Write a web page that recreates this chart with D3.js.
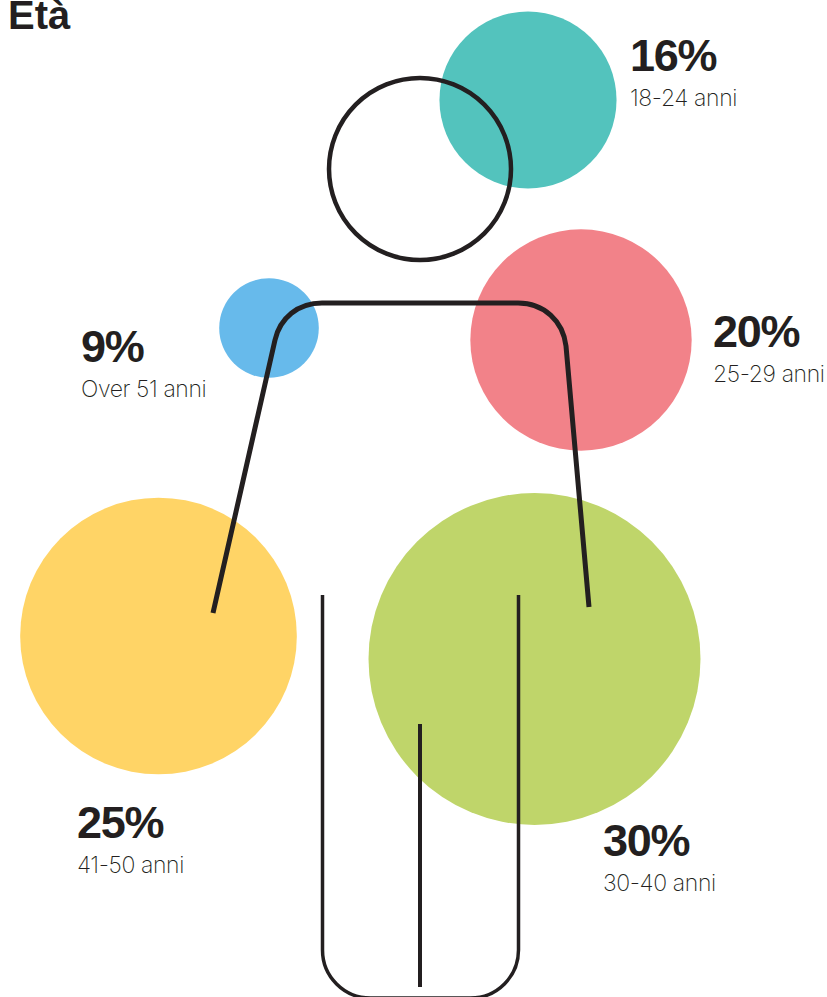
<!DOCTYPE html>
<html>

<head>
    <meta charset="utf-8">
    <script src="https://d3js.org/d3.v7.min.js"></script>
    <style>
        * {
            margin: 0;
            padding: 0;
        }

        body {
            background: #fff;
            overflow: hidden;
        }

        text {
            fill: #231f20;
        }

        .pct {
            font-family: "Liberation Sans", sans-serif;
            font-size: 45px;
            font-weight: 700;
            letter-spacing: -1.3px;
        }

        .age {
            font-family: Inter, sans-serif;
            font-size: 23px;
            font-weight: 200;
            letter-spacing: -0.4px;
        }

        .title {
            font-family: "Liberation Sans", sans-serif;
            font-size: 40px;
            font-weight: 700;
        }
    </style>
</head>

<body>
    <div id="chart"></div>
</body>
<script>
    // values
    const ages = ["18-24 anni", "25-29 anni", "Over 51 anni", "41-50 anni", "30-40 anni"];
    const shares = [16, 20, 9, 25, 30];
    const colors = ["#53c3bd", "#f28289", "#67baeb", "#ffd466", "#bfd56a"];

    // where each bubble sits around the figure, and where its label starts
    const centers = [[528, 100], [581, 340], [269, 328], [158.5, 636], [534.5, 659]];
    const labelPos = [[630, 71], [713, 347], [81, 362], [77, 838], [603, 856]];

    const width = 827, height = 997;

    let svg = d3.select("#chart").append("svg")
        .attr("width", width)
        .attr("height", height);

    let r = d3.scaleLinear().domain([0, 30]).range([0, 166]);

    let rows = ages.map((a, i) => ({
        age: a, share: shares[i], color: colors[i], c: centers[i], l: labelPos[i]
    }));

    svg.append("text")
        .attr("class", "title")
        .attr("x", 8)
        .attr("y", 29)
        .text("Età");

    svg.selectAll("circle.bubble")
        .data(rows)
        .enter()
        .append("circle")
        .attr("class", "bubble")
        .attr("cx", d => d.c[0])
        .attr("cy", d => d.c[1])
        .attr("r", d => r(d.share))
        .attr("fill", d => d.color);

    // the person outline
    let body = svg.append("g")
        .attr("fill", "none")
        .attr("stroke", "#231f20");

    body.append("circle")
        .attr("cx", 420)
        .attr("cy", 169)
        .attr("r", 91)
        .attr("stroke-width", 4.5);

    let arms = d3.path();
    arms.moveTo(213, 613);
    arms.lineTo(275, 340);
    arms.bezierCurveTo(280, 318, 298, 303, 322, 303);
    arms.lineTo(518, 303);
    arms.bezierCurveTo(544, 303, 563, 321, 566, 346);
    arms.lineTo(589, 607);
    body.append("path")
        .attr("d", arms.toString())
        .attr("stroke-width", 5);

    let legs = d3.path();
    legs.moveTo(322.5, 595);
    legs.lineTo(322.5, 950);
    legs.arc(370.5, 950, 48, Math.PI, Math.PI / 2, true);
    legs.lineTo(470.5, 998);
    legs.arc(470.5, 950, 48, Math.PI / 2, 0, true);
    legs.lineTo(518.5, 595);
    body.append("path")
        .attr("d", legs.toString())
        .attr("stroke-width", 3.5);

    body.append("line")
        .attr("x1", 420)
        .attr("y1", 724)
        .attr("x2", 420)
        .attr("y2", 987)
        .attr("stroke-width", 4);

    let labels = svg.selectAll("g.label")
        .data(rows)
        .enter()
        .append("g")
        .attr("class", "label")
        .attr("transform", d => "translate(" + d.l[0] + "," + d.l[1] + ")");

    labels.append("text")
        .attr("class", "pct")
        .text(d => d.share + "%");

    labels.append("text")
        .attr("class", "age")
        .attr("y", 35)
        .text(d => d.age);
</script>

</html>
